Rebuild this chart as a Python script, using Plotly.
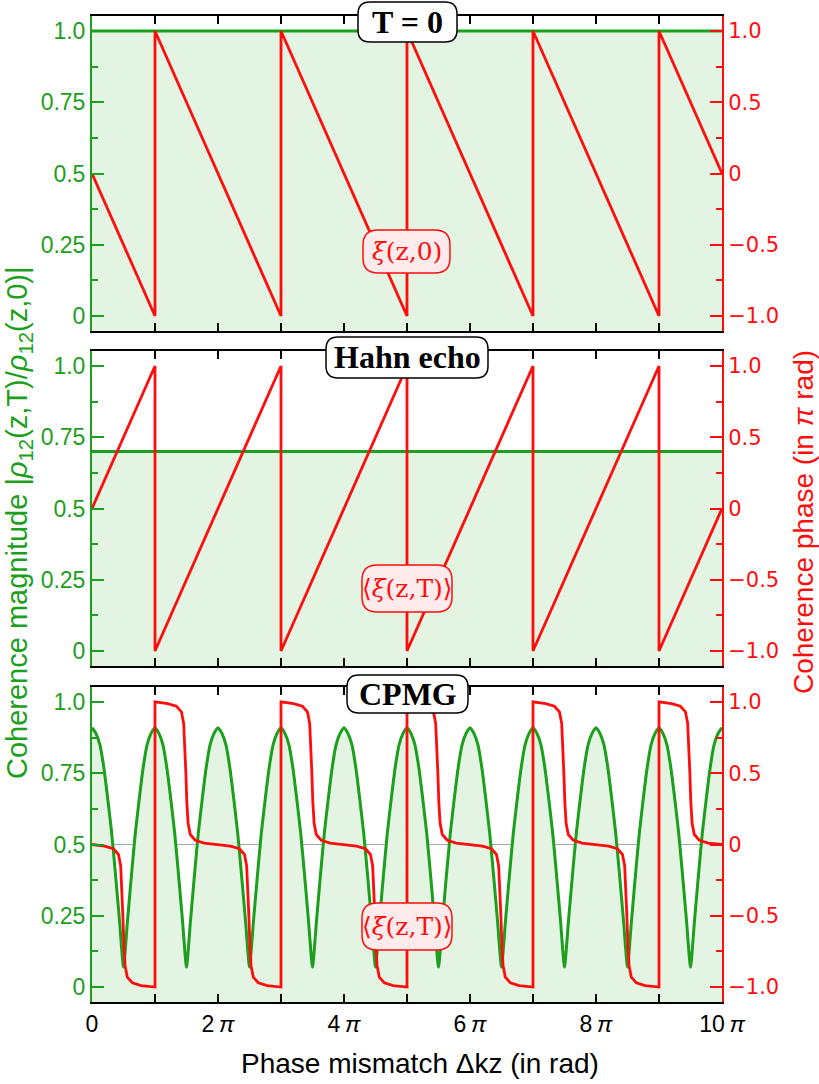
import plotly.graph_objects as go

# ---------------- data (x in units of pi) ----------------
mag_x = [0, 10]
mag_T0 = [1.0, 1.0]
mag_hahn = [0.7, 0.7]

saw_x = [0, 1, 1, 3, 3, 5, 5, 7, 7, 9, 9, 10]
phase_T0 = [0, -1, 1, -1, 1, -1, 1, -1, 1, -1, 1, 0]
phase_hahn = [0, 1, -1, 1, -1, 1, -1, 1, -1, 1, -1, 0]

cpmg_mag_x = [i / 16 for i in range(161)]
cpmg_mag = [
    0.91, 0.89, 0.85, 0.77, 0.66, 0.54, 0.39, 0.23, 0.07, 0.23, 0.39, 0.54, 0.66, 0.77, 0.85, 0.89,
    0.91, 0.89, 0.85, 0.77, 0.66, 0.54, 0.39, 0.23, 0.07, 0.23, 0.39, 0.54, 0.66, 0.77, 0.85, 0.89,
    0.91, 0.89, 0.85, 0.77, 0.66, 0.54, 0.39, 0.23, 0.07, 0.23, 0.39, 0.54, 0.66, 0.77, 0.85, 0.89,
    0.91, 0.89, 0.85, 0.77, 0.66, 0.54, 0.39, 0.23, 0.07, 0.23, 0.39, 0.54, 0.66, 0.77, 0.85, 0.89,
    0.91, 0.89, 0.85, 0.77, 0.66, 0.54, 0.39, 0.23, 0.07, 0.23, 0.39, 0.54, 0.66, 0.77, 0.85, 0.89,
    0.91, 0.89, 0.85, 0.77, 0.66, 0.54, 0.39, 0.23, 0.07, 0.23, 0.39, 0.54, 0.66, 0.77, 0.85, 0.89,
    0.91, 0.89, 0.85, 0.77, 0.66, 0.54, 0.39, 0.23, 0.07, 0.23, 0.39, 0.54, 0.66, 0.77, 0.85, 0.89,
    0.91, 0.89, 0.85, 0.77, 0.66, 0.54, 0.39, 0.23, 0.07, 0.23, 0.39, 0.54, 0.66, 0.77, 0.85, 0.89,
    0.91, 0.89, 0.85, 0.77, 0.66, 0.54, 0.39, 0.23, 0.07, 0.23, 0.39, 0.54, 0.66, 0.77, 0.85, 0.89,
    0.91, 0.89, 0.85, 0.77, 0.66, 0.54, 0.39, 0.23, 0.07, 0.23, 0.39, 0.54, 0.66, 0.77, 0.85, 0.89,
    0.91,
]

cpmg_phase_x = [
    0, 0.2, 0.34, 0.42, 0.455, 0.475, 0.49, 0.505, 0.525, 0.56, 0.64, 0.78, 1,
    1, 1.2, 1.34, 1.42, 1.455, 1.475, 1.49, 1.505, 1.525, 1.56, 1.64, 1.78,
    2, 2.2, 2.34, 2.42, 2.455, 2.475, 2.49, 2.505, 2.525, 2.56, 2.64, 2.78, 3,
    3, 3.2, 3.34, 3.42, 3.455, 3.475, 3.49, 3.505, 3.525, 3.56, 3.64, 3.78,
    4, 4.2, 4.34, 4.42, 4.455, 4.475, 4.49, 4.505, 4.525, 4.56, 4.64, 4.78, 5,
    5, 5.2, 5.34, 5.42, 5.455, 5.475, 5.49, 5.505, 5.525, 5.56, 5.64, 5.78,
    6, 6.2, 6.34, 6.42, 6.455, 6.475, 6.49, 6.505, 6.525, 6.56, 6.64, 6.78, 7,
    7, 7.2, 7.34, 7.42, 7.455, 7.475, 7.49, 7.505, 7.525, 7.56, 7.64, 7.78,
    8, 8.2, 8.34, 8.42, 8.455, 8.475, 8.49, 8.505, 8.525, 8.56, 8.64, 8.78, 9,
    9, 9.2, 9.34, 9.42, 9.455, 9.475, 9.49, 9.505, 9.525, 9.56, 9.64, 9.78,
    10,
]
cpmg_phase = [
    0, -0.012, -0.03, -0.07, -0.15, -0.30, -0.5, -0.70, -0.85, -0.93, -0.97, -0.99, -1,
    1, 0.988, 0.97, 0.93, 0.85, 0.70, 0.5, 0.30, 0.15, 0.07, 0.03, 0.01,
    0, -0.012, -0.03, -0.07, -0.15, -0.30, -0.5, -0.70, -0.85, -0.93, -0.97, -0.99, -1,
    1, 0.988, 0.97, 0.93, 0.85, 0.70, 0.5, 0.30, 0.15, 0.07, 0.03, 0.01,
    0, -0.012, -0.03, -0.07, -0.15, -0.30, -0.5, -0.70, -0.85, -0.93, -0.97, -0.99, -1,
    1, 0.988, 0.97, 0.93, 0.85, 0.70, 0.5, 0.30, 0.15, 0.07, 0.03, 0.01,
    0, -0.012, -0.03, -0.07, -0.15, -0.30, -0.5, -0.70, -0.85, -0.93, -0.97, -0.99, -1,
    1, 0.988, 0.97, 0.93, 0.85, 0.70, 0.5, 0.30, 0.15, 0.07, 0.03, 0.01,
    0, -0.012, -0.03, -0.07, -0.15, -0.30, -0.5, -0.70, -0.85, -0.93, -0.97, -0.99, -1,
    1, 0.988, 0.97, 0.93, 0.85, 0.70, 0.5, 0.30, 0.15, 0.07, 0.03, 0.01,
    0,
]

x_tick_vals = [0, 2, 4, 6, 8, 10]
x_tick_text = ["0", "2\u2009<i>π</i>", "4\u2009<i>π</i>", "6\u2009<i>π</i>",
               "8\u2009<i>π</i>", "10\u2009<i>π</i>"]
x_minor_vals = [1, 3, 5, 7, 9]
left_tick_vals = [0, 0.25, 0.5, 0.75, 1.0]
left_tick_text = ["0", "0.25", "0.5", "0.75", "1.0"]
right_tick_vals = [-1, -0.5, 0, 0.5, 1]
right_tick_text = ["\u22121.0", "\u22120.5", "0", "0.5", "1.0"]

panel_titles = ["T = 0", "Hahn echo", "CPMG"]
phase_labels = ["<i>ξ</i>(z,0)", "\u27e8<i>ξ</i>(z,T)\u27e9", "\u27e8<i>ξ</i>(z,T)\u27e9"]

# ---------------- style ----------------
GREEN = "#1c9f1c"
FILL = "#e3f4e3"
RED = "#ff0d0d"
W, H = 819, 1084
ML, MR, MT, MB = 92, 97, 16, 82
PW, PH = W - ML - MR, H - MT - MB


def X(px):
    return (px - ML) / PW


def Y(py):
    return (H - MB - py) / PH


def rrect(x0, y0, x1, y1, r):
    pts = [
        ("M", [(x0 + r, y0)]), ("L", [(x1 - r, y0)]), ("Q", [(x1, y0), (x1, y0 + r)]),
        ("L", [(x1, y1 - r)]), ("Q", [(x1, y1), (x1 - r, y1)]), ("L", [(x0 + r, y1)]),
        ("Q", [(x0, y1), (x0, y1 - r)]), ("L", [(x0, y0 + r)]), ("Q", [(x0, y0), (x0 + r, y0)]),
    ]
    s = ""
    for cmd, ps in pts:
        s += cmd + " " + " ".join(f"{X(a):.5f},{Y(b):.5f}" for a, b in ps) + " "
    return s + "Z"


panels_px = [(16, 331), (351, 666), (687, 1002)]
L_RANGE = [-0.0526, 1.0526]
R_RANGE = [-1.105, 1.105]

fig = go.Figure()

mags = [(mag_x, mag_T0), (mag_x, mag_hahn), (cpmg_mag_x, cpmg_mag)]
phases = [(saw_x, phase_T0), (saw_x, phase_hahn), (cpmg_phase_x, cpmg_phase)]

for i in range(3):
    xa = "x" if i == 0 else f"x{i+1}"
    yl = "y" if i == 0 else f"y{2*i+1}"
    yr = f"y{2*i+2}"
    mx, my = mags[i]
    fig.add_trace(go.Scatter(x=[0, 10], y=[-0.2, -0.2], mode="lines", line=dict(width=0),
                             xaxis=xa, yaxis=yl, hoverinfo="skip", showlegend=False))
    fig.add_trace(go.Scatter(x=mx, y=my, mode="lines",
                             line=dict(color=GREEN, width=3, shape="spline", smoothing=0.5),
                             fill="tonexty", fillcolor=FILL,
                             xaxis=xa, yaxis=yl, showlegend=False))
    px_, py_ = phases[i]
    fig.add_trace(go.Scatter(x=px_, y=py_, mode="lines", line=dict(color=RED, width=2.8),
                             xaxis=xa, yaxis=yr, showlegend=False))

layout = dict(
    width=W, height=H, margin=dict(l=ML, r=MR, t=MT, b=MB),
    plot_bgcolor="white", paper_bgcolor="white", showlegend=False,
    font=dict(family="Liberation Sans, Arial", color="black"),
)

for i in range(3):
    top, bot = panels_px[i]
    dom = [Y(bot), Y(top)]
    xkey = "xaxis" if i == 0 else f"xaxis{i+1}"
    ylkey = "yaxis" if i == 0 else f"yaxis{2*i+1}"
    yrkey = f"yaxis{2*i+2}"
    ylname = "y" if i == 0 else f"y{2*i+1}"
    xname = "x" if i == 0 else f"x{i+1}"
    layout[xkey] = dict(
        domain=[0, 1], anchor=ylname, range=[0, 10], showline=True, linecolor="black",
        linewidth=2, mirror="ticks", ticks="inside", ticklen=8, tickwidth=1.5,
        tickcolor="black", tickvals=x_tick_vals, ticktext=x_tick_text,
        minor=dict(tickvals=x_minor_vals, ticks="inside", ticklen=8, tickwidth=1.5,
                   tickcolor="black"),
        showticklabels=(i == 2), showgrid=False, zeroline=False,
        tickfont=dict(family="Liberation Sans, Arial", size=23, color="black"),
    )
    layout[ylkey] = dict(
        domain=dom, anchor=xname, range=L_RANGE, side="left", showline=True,
        linecolor=GREEN, linewidth=2, ticks="inside", ticklen=12, tickwidth=2,
        tickcolor=GREEN, tickvals=left_tick_vals, ticktext=left_tick_text,
        minor=dict(tickvals=[0.125, 0.375, 0.625, 0.875], ticks="inside", ticklen=6,
                   tickwidth=2, tickcolor=GREEN),
        showgrid=False, zeroline=False,
        tickfont=dict(family="Liberation Sans, Arial", size=23, color=GREEN),
    )
    layout[yrkey] = dict(
        overlaying=ylname, anchor=xname, side="right", range=R_RANGE, showline=True,
        linecolor=RED, linewidth=2, ticks="inside", ticklen=12, tickwidth=2,
        tickcolor=RED, tickvals=right_tick_vals, ticktext=right_tick_text,
        minor=dict(tickvals=[-0.75, -0.25, 0.25, 0.75], ticks="inside", ticklen=6,
                   tickwidth=2, tickcolor=RED),
        showgrid=False, zeroline=True, zerolinecolor="#a8a8a8", zerolinewidth=1,
        tickfont=dict(family="DejaVu Sans", size=21, color=RED),
    )

fig.update_layout(**layout)

title_boxes = [(358, 2, 457, 42), (326, 337, 488, 378), (347, 675, 468, 713)]
phase_boxes = [(363, 230, 450, 273), (362, 565, 452, 612), (362, 903, 452, 950)]

shapes = []
annotations = []
for i in range(3):
    x0, y0, x1, y1 = title_boxes[i]
    shapes.append(dict(type="path", xref="paper", yref="paper", path=rrect(x0, y0, x1, y1, 12),
                       fillcolor="white", line=dict(color="black", width=1.5), layer="above"))
    annotations.append(dict(xref="paper", yref="paper", x=X((x0 + x1) / 2), y=Y((y0 + y1) / 2),
                            text=f"<b>{panel_titles[i]}</b>", showarrow=False,
                            xanchor="center", yanchor="middle",
                            font=dict(family="Liberation Serif, Times New Roman", size=32,
                                      color="black")))
    x0, y0, x1, y1 = phase_boxes[i]
    shapes.append(dict(type="path", xref="paper", yref="paper", path=rrect(x0, y0, x1, y1, 15),
                       fillcolor="#ffebeb", line=dict(color=RED, width=1.5), layer="above"))
    annotations.append(dict(xref="paper", yref="paper", x=X((x0 + x1) / 2), y=Y((y0 + y1) / 2),
                            text=phase_labels[i], showarrow=False,
                            xanchor="center", yanchor="middle",
                            font=dict(family="DejaVu Serif, Liberation Serif", size=25,
                                      color=RED)))

annotations.append(dict(xref="paper", yref="paper", x=X(420), y=Y(1063),
                        text="Phase mismatch Δkz (in rad)", showarrow=False,
                        xanchor="center", yanchor="middle",
                        font=dict(family="Liberation Sans, Arial", size=28, color="black")))
annotations.append(dict(xref="paper", yref="paper", x=X(19), y=Y(523), textangle=-90,
                        text="Coherence magnitude |<i>ρ</i><sub>12</sub>(z,T)/<i>ρ</i><sub>12</sub>(z,0)|",
                        showarrow=False, xanchor="center", yanchor="middle",
                        font=dict(family="Liberation Sans, Arial", size=29, color=GREEN)))
annotations.append(dict(xref="paper", yref="paper", x=X(803), y=Y(522), textangle=-90,
                        text="Coherence phase (in <i>π</i> rad)", showarrow=False,
                        xanchor="center", yanchor="middle",
                        font=dict(family="Liberation Sans, Arial", size=28, color=RED)))

fig.update_layout(shapes=shapes, annotations=annotations)
fig.write_html("out.html")
